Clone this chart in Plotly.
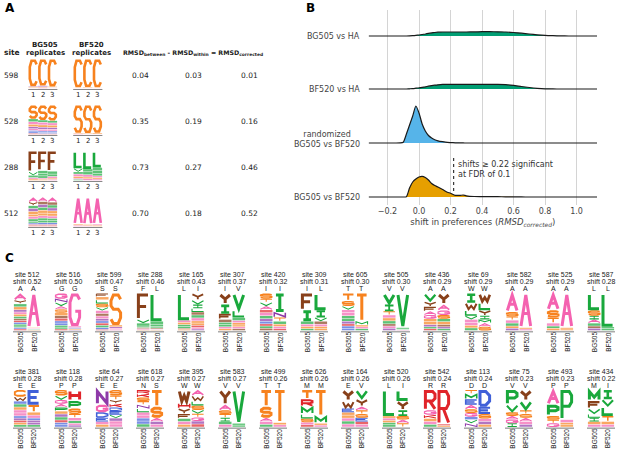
import plotly.graph_objects as go

W, H = 617, 460

# amino-acid colours (functional groups)
aa_colors = {
    'A': '#f462b0', 'G': '#f462b0',
    'S': '#f7821e', 'T': '#f7821e', 'C': '#f7821e',
    'V': '#19a83c', 'L': '#19a83c', 'I': '#19a83c', 'M': '#19a83c', 'P': '#19a83c',
    'F': '#88401a', 'Y': '#88401a', 'W': '#88401a',
    'D': '#4060d8', 'E': '#4060d8',
    'H': '#e0242a', 'K': '#e0242a', 'R': '#e0242a',
    'N': '#8e3aa8', 'Q': '#8e3aa8',
}

# ---- panel A data ----
a_sites = [598, 528, 288, 512]
a_between = [0.04, 0.35, 0.73, 0.70]
a_within = [0.03, 0.19, 0.27, 0.18]
a_corrected = [0.01, 0.16, 0.46, 0.52]
# stacks, top letter first, one string per replicate
a_bg505 = [
    ["C92 N3 S3 A2", "C90 N4 S3 A3", "C93 S3 N2 A2"],
    ["S46 V10 A9 T8 N7 G6 D5 E5 K4", "S50 V8 A9 T8 N7 G6 D5 E4 K3", "S52 V8 A8 T8 N6 G6 D5 E4 K3"],
    ["F70 V12 L8 A5 S5", "F66 V10 M8 L8 A4 S4", "F68 L10 V8 A6 S4 G4"],
    ["A16 Y12 V10 N10 S10 T8 G8 I8 L6 E5 K4 R3", "A14 Y10 N10 V10 S10 T9 G8 I8 L8 E6 K4 R3",
     "A16 Y10 V10 N10 S10 T8 G8 L8 I7 E6 K4 R3"],
]
a_bf520 = [
    ["C96 S2 A2", "C95 S3 A2", "C96 S2 A2"],
    ["S94 T3 A3", "S95 T3 A2", "S94 T4 A2"],
    ["L58 V12 M8 A8 S6 G4 I4", "L60 M10 V10 A8 S6 G6", "L55 V10 M10 I9 A6 S5 G5"],
    ["A92 S4 G4", "A93 S4 G3", "A92 G4 S4"],
]

# ---- panel B data ----
dens_x = [-0.32, -0.2, -0.15, -0.12, -0.1, -0.08, -0.06, -0.04, -0.02, 0.0, 0.02, 0.04, 0.06,
          0.08, 0.1, 0.12, 0.15, 0.18, 0.2, 0.23, 0.26, 0.28, 0.3, 0.35, 0.4, 0.45, 0.5, 0.55,
          0.6, 0.65, 0.7, 0.75, 0.8, 0.85, 0.9, 0.95, 1.0, 1.13]
dens_bg505_ha = [0, 0, 0, 0, 0, 0, 0.1, 0.3, 0.6, 1.0, 1.5, 2.0, 2.6, 3.1, 3.5, 3.8, 4.0, 4.0, 4.0,
                 4.0, 4.0, 4.0, 4.0, 4.1, 4.3, 4.3, 4.2, 4.0, 3.5, 2.8, 2.0, 1.2, 0.6, 0.3, 0.1,
                 0, 0, 0]
dens_bf520_ha = [0, 0, 0, 0, 0, 0, 0.2, 0.4, 0.8, 1.2, 1.7, 2.2, 2.8, 3.3, 3.8, 4.2, 4.6, 4.7, 4.7,
                 4.7, 4.7, 4.7, 4.7, 4.7, 4.7, 4.7, 4.7, 4.4, 3.6, 2.5, 1.5, 0.7, 0.2, 0.05, 0,
                 0, 0, 0]
dens_random = [0, 0, 0, 0.1, 0.8, 9, 18, 27, 37, 30, 19, 12, 7.5, 5, 3.2, 2.2, 1.3, 0.6, 0.4, 0.2,
               0.1, 0.05, 0, 0, 0, 0, 0, 0, 0, 0, 0, 0, 0, 0, 0, 0, 0, 0]
dens_bg_bf = [0, 0, 0, 0, 0, 0.3, 9, 15, 18, 20, 20.7, 19.5, 17, 13.5, 11.5, 10, 7.5, 4.8, 3.8,
              1.7, 1.6, 2.0, 1.2, 0.5, 0.4, 0.3, 0.3, 0.15, 0.1, 0.05, 0, 0, 0, 0, 0, 0, 0, 0]
ridge_names = ["BG505 vs BF520", "randomized<br>BG505 vs BF520", "BF520 vs HA", "BG505 vs HA"]
ridge_data = [dens_bg_bf, dens_random, dens_bf520_ha, dens_bg505_ha]
ridge_colors = ['#e69f00', '#56b4e9', '#009e73', '#009e73']
fdr_cutoff = 0.22

# ---- panel C data ----
c_sites = [512, 516, 599, 288, 165, 307, 420, 309, 605, 505, 436, 69, 582, 525, 587,
           381, 118, 64, 618, 395, 583, 499, 626, 164, 520, 542, 113, 75, 493, 434]
c_shift = [0.52, 0.50, 0.47, 0.46, 0.43, 0.37, 0.32, 0.31, 0.30, 0.30, 0.29, 0.29, 0.29, 0.29, 0.28,
           0.28, 0.28, 0.27, 0.27, 0.27, 0.27, 0.26, 0.26, 0.26, 0.26, 0.24, 0.24, 0.23, 0.23, 0.22]
c_wt_bg505 = list("AGSFLIIITVAWAAL") + list("EPENWVTMELRDVPM")
c_wt_bf520 = list("AGSLIVILTVAWAAL") + list("EPESWVTMVIRDVPI")
c_bg505 = [
    "A18 Y10 V8 S8 N6 G6 T6 I6 F5 K5 E5 L5 M4 D4 R4",
    "G14 N10 V10 A9 S9 T8 Y7 K7 D6 E6 I5 L5 R4",
    "F9 T8 L10 S10 V9 A8 Y7 G7 N6 D6 K6 I6 E5 R3",
    "F70 V10 L8 I4 Y3 A3 S2",
    "L72 A6 S6 V5 I5 F3 T3",
    "Y30 I25 F15 W8 L6 V6 A5 S5",
    "S14 T10 V10 A10 R8 G8 L8 N7 E7 K6 I6 F6",
    "F45 I30 V8 A6 S6 L5",
    "T20 S14 V10 G8 A8 L8 I7 N7 K6 E6 D6",
    "V30 I18 T10 A8 S8 L8 F6 G6 N6",
    "V22 Y14 F12 A10 G10 S8 T8 N6 L5 K5",
    "I25 W20 L15 V10 A8 G8 S7 M7",
    "A50 S12 T10 G8 V8 C6 N6",
    "A45 S20 T15 G8 V6 C6",
    "L45 S15 I10 A10 V8 F6 N6",
    "C18 W12 E8 V8 S8 A8 G8 D6 N6 K6 T6 L6",
    "S15 V12 G10 A10 P10 T8 N8 M8 K7 D6 E6",
    "N40 G20 D15 E10 A8 S7",
    "R10 K10 S10 T10 N10 L10 A8 G8 D8 E8 V8",
    "W35 H15 Y15 F12 L8 A8 S7",
    "Y40 A15 S10 T10 I10 L8 G7",
    "T45 S30 A10 G8 V7",
    "T25 R20 M20 L12 S10 A7 K6",
    "Y30 W20 E10 S8 T8 A8 V8 G8",
    "L70 S6 A6 T6 V6 I6",
    "R55 G12 K10 S8 A8 V7",
    "T10 M15 E15 A12 S10 G10 D8 V10 N10",
    "P40 V20 S10 A10 G10 I10",
    "A40 P30 S10 T10 G10",
    "M30 F20 V15 L10 I10 S8 A7",
]
c_bf520 = [
    "A92 S2 G2 V2 T2",
    "G88 A4 D3 S3 N2",
    "S85 T5 N4 G3 A3",
    "L75 V8 I6 M4 F3 A2 S2",
    "Y18 V12 I10 L10 F8 M8 A8 T6 S6 K6 G4 N4",
    "V45 L20 I8 A6 S6 T5 G5 F5",
    "I50 N15 T10 V8 S6 A6 R5",
    "L45 I20 V10 F8 A6 S6 T5",
    "T75 M10 S5 A5 V5",
    "V92 I4 L2 A2",
    "Y30 A16 G12 S10 V8 T8 F6 N5 L5",
    "W25 L20 Y15 I10 M10 A10 S10",
    "A92 S4 G4",
    "A92 S4 T4",
    "L90 I5 V5",
    "E40 T20 S8 A8 D6 N6 Q6 V6",
    "H30 P20 S15 T10 A8 V7 G5 N5",
    "S15 T12 Y10 K10 D10 E10 V9 N8 A8 G8",
    "T45 S30 A10 N8 G7",
    "A15 W15 L12 S12 V10 T10 G10 N8 K8",
    "V90 I5 L5",
    "T88 S6 A6",
    "T70 M20 S5 A5",
    "V25 Y20 A10 T10 S10 E10 K8 G7",
    "L30 Y25 I15 S10 A10 T10",
    "R92 K4 S4",
    "D45 E20 S12 A8 N8 T7",
    "Y30 V25 T10 S10 A10 G8 N7",
    "P80 A8 S6 T6",
    "I25 V20 L25 T15 S8 A7",
]

# stroke outlines of the letters in a unit box (u right, v up)
_O = [(0.25, 0), (0, 0.25), (0, 0.75), (0.25, 1), (0.75, 1), (1, 0.75), (1, 0.25), (0.75, 0), (0.25, 0)]
GLYPHS = {
    'A': [[(0, 0), (0.5, 1), (1, 0)], [(0.22, 0.4), (0.78, 0.4)]],
    'C': [[(1, 0.85), (0.75, 1), (0.25, 1), (0, 0.75), (0, 0.25), (0.25, 0), (0.75, 0), (1, 0.15)]],
    'D': [[(0, 0), (0, 1), (0.6, 1), (1, 0.7), (1, 0.3), (0.6, 0), (0, 0)]],
    'E': [[(1, 1), (0, 1), (0, 0), (1, 0)], [(0, 0.5), (0.8, 0.5)]],
    'F': [[(1, 1), (0, 1), (0, 0)], [(0, 0.5), (0.8, 0.5)]],
    'G': [[(1, 0.85), (0.75, 1), (0.25, 1), (0, 0.75), (0, 0.25), (0.25, 0), (0.75, 0), (1, 0.25),
           (1, 0.45), (0.55, 0.45)]],
    'H': [[(0, 0), (0, 1)], [(1, 0), (1, 1)], [(0, 0.5), (1, 0.5)]],
    'I': [[(0.5, 0), (0.5, 1)], [(0.1, 1), (0.9, 1)], [(0.1, 0), (0.9, 0)]],
    'K': [[(0, 0), (0, 1)], [(1, 1), (0, 0.35)], [(0.35, 0.58), (1, 0)]],
    'L': [[(0, 1), (0, 0), (1, 0)]],
    'M': [[(0, 0), (0, 1), (0.5, 0.3), (1, 1), (1, 0)]],
    'N': [[(0, 0), (0, 1), (1, 0), (1, 1)]],
    'P': [[(0, 0), (0, 1), (0.75, 1), (1, 0.85), (1, 0.6), (0.75, 0.45), (0, 0.45)]],
    'Q': [_O, [(0.6, 0.3), (1, 0)]],
    'R': [[(0, 0), (0, 1), (0.75, 1), (1, 0.85), (1, 0.6), (0.75, 0.45), (0, 0.45)], [(0.45, 0.45), (1, 0)]],
    'S': [[(1, 0.85), (0.75, 1), (0.25, 1), (0, 0.8), (0, 0.62), (0.25, 0.5), (0.75, 0.5), (1, 0.38),
           (1, 0.2), (0.75, 0), (0.25, 0), (0, 0.15)]],
    'T': [[(0, 1), (1, 1)], [(0.5, 1), (0.5, 0)]],
    'V': [[(0, 1), (0.5, 0), (1, 1)]],
    'W': [[(0, 1), (0.25, 0), (0.5, 0.6), (0.75, 0), (1, 1)]],
    'Y': [[(0, 1), (0.5, 0.5), (1, 1)], [(0.5, 0.5), (0.5, 0)]],
}

shapes = []
annots = []


def parse_stack(stack):
    items = [(s[0], float(s[1:])) for s in stack.split()]
    total = sum(w for _, w in items)
    return [(a, w / total) for a, w in items]


def glyph_path(aa, x0, x1, ytop, ybot, lw):
    ix = min(lw / 2, (x1 - x0) / 4)
    iy = min(lw / 2, (ybot - ytop) / 4)
    ax0, ax1, at, ab = x0 + ix, x1 - ix, ytop + iy, ybot - iy
    parts = []
    for line in GLYPHS[aa]:
        pts = [(ax0 + u * (ax1 - ax0), ab - v * (ab - at)) for u, v in line]
        parts.append('M' + 'L'.join(f'{px:.2f},{py:.2f}' for px, py in pts))
    return ' '.join(parts)


def draw_column(stack, xc, width, ybot, height, maxlw):
    y = ybot
    for aa, frac in reversed(parse_stack(stack)):
        h = frac * height
        ytop = y - h
        col = aa_colors[aa]
        if h < 3.2:
            # letters this flat only read as a coloured stripe
            shapes.append(dict(type='rect', xref='x', yref='y', x0=xc - width / 2, x1=xc + width / 2,
                               y0=ytop + 0.25, y1=y - 0.25, fillcolor=col, opacity=0.7,
                               line=dict(width=0), layer='above'))
        else:
            lw = min(maxlw, 0.28 * h)
            shapes.append(dict(type='path', xref='x', yref='y',
                               path=glyph_path(aa, xc - width / 2, xc + width / 2, ytop, y, lw),
                               line=dict(color=col, width=lw), fillcolor='rgba(0,0,0,0)', layer='above'))
        y = ytop


def text(x, y, s, size=7.5, color='#222', xanchor='center', yanchor='middle', angle=0,
         family='Liberation Sans'):
    annots.append(dict(x=x, y=y, xref='x', yref='y', text=s, showarrow=False, xanchor=xanchor,
                       yanchor=yanchor, textangle=angle,
                       font=dict(size=size, color=color, family=family)))


# ---------------- panel A ----------------
fa = 'DejaVu Sans'
text(3, 8, '<b>A</b>', size=12, color='#000', xanchor='left', family=fa)
text(2, 52, '<b>site</b>', size=7.5, xanchor='left', family=fa)
text(45, 45, '<b>BG505</b>', size=7, family=fa)
text(45, 52.5, '<b>replicates</b>', size=7, family=fa)
text(91.5, 45, '<b>BF520</b>', size=7, family=fa)
text(91.5, 52.5, '<b>replicates</b>', size=7, family=fa)
text(193, 52.5, '<b>RMSD<sub>between</sub> - RMSD<sub>within</sub> = RMSD<sub>corrected</sub></b>',
     size=6.3, family=fa)
for i, site in enumerate(a_sites):
    yc = 75 + 46 * i
    ybot = yc + 13.5
    text(2, yc, str(site), size=7.5, xanchor='left', family=fa)
    text(140, yc, f'{a_between[i]:.2f}', size=7.5, family=fa)
    text(193, yc, f'{a_within[i]:.2f}', size=7.5, family=fa)
    text(249, yc, f'{a_corrected[i]:.2f}', size=7.5, family=fa)
    for x_start, stacks in ((33.2, a_bg505[i]), (78.2, a_bf520[i])):
        for r in range(3):
            draw_column(stacks[r], x_start + 9.6 * r, 9.4, ybot, 29, 2.6)
            text(x_start + 9.6 * r, ybot + 6, str(r + 1), size=7, family=fa)
        shapes.append(dict(type='line', xref='x', yref='y', x0=x_start - 5, x1=x_start + 24.2,
                           y0=ybot + 1, y1=ybot + 1, line=dict(color='#888', width=1)))

# ---------------- panel C ----------------
text(3, 258, '<b>C</b>', size=12, color='#000', xanchor='left', family=fa)
for k, site in enumerate(c_sites):
    row, col = divmod(k, 15)
    cx = 27 + 41 * col
    y0 = 274.5 + 96.5 * row
    text(cx, y0, f'site {site}', size=7)
    text(cx, y0 + 7, f'shift {c_shift[k]:.2f}', size=7)
    text(cx - 6.8, y0 + 14, c_wt_bg505[k], size=7)
    text(cx + 6.8, y0 + 14, c_wt_bf520[k], size=7)
    ybot = y0 + 56
    draw_column(c_bg505[k], cx - 6.8, 12.6, ybot, 37, 3.0)
    draw_column(c_bf520[k], cx + 6.8, 12.6, ybot, 37, 3.0)
    shapes.append(dict(type='line', xref='x', yref='y', x0=cx - 14, x1=cx + 14,
                       y0=ybot + 1.2, y1=ybot + 1.2, line=dict(color='#aaa', width=1.6)))
    text(cx - 6.8, ybot + 11.5, 'BG505', size=6.5, angle=-90)
    text(cx + 6.8, ybot + 11.5, 'BF520', size=6.5, angle=-90)

# ---------------- panel B ----------------
fig = go.Figure()
ridge_base = [0, 54, 108, 161]
ridge_label_y = [197, 150.5, 89, 36]
ridge_label_anchor = ['middle', 'bottom', 'middle', 'middle']
for j in reversed(range(4)):
    base = ridge_base[j]
    fig.add_trace(go.Scatter(x=dens_x, y=[base] * len(dens_x), mode='lines', line=dict(width=0),
                             xaxis='x2', yaxis='y2', hoverinfo='skip', showlegend=False))
    fig.add_trace(go.Scatter(x=dens_x, y=[base + d for d in ridge_data[j]], mode='lines',
                             line=dict(color='#1a1a1a', width=1.2, shape='spline', smoothing=0.6),
                             fill='tonexty', fillcolor=ridge_colors[j],
                             xaxis='x2', yaxis='y2', showlegend=False, name=ridge_names[j]))
text(304, 8, '<b>B</b>', size=12, color='#000', xanchor='left', family=fa)
for j in range(4):
    text(362, ridge_label_y[j], ridge_names[j], size=8, color='#444', xanchor='right',
         yanchor=ridge_label_anchor[j], family=fa)
shapes.append(dict(type='line', xref='x2', yref='y2', x0=fdr_cutoff, x1=fdr_cutoff, y0=6, y1=42,
                   line=dict(color='#222', width=1.1, dash='dot')))
annots.append(dict(x=fdr_cutoff + 0.012, y=28, xref='x2', yref='y2', xanchor='left', yanchor='middle',
                   align='left', showarrow=False,
                   text=f'shifts \u2265 {fdr_cutoff:.2f} significant<br>at FDR of 0.1',
                   font=dict(size=8, color='#333', family=fa)))

fig.update_layout(
    width=W, height=H, margin=dict(l=0, r=0, t=0, b=0),
    paper_bgcolor='white', plot_bgcolor='rgba(0,0,0,0)',
    xaxis=dict(domain=[0, 1], range=[0, W], visible=False, fixedrange=True),
    yaxis=dict(domain=[0, 1], range=[H, 0], visible=False, fixedrange=True),
    xaxis2=dict(domain=[368.6 / W, 597 / W], range=[-0.32, 1.13], anchor='y2',
                tickvals=[-0.2, 0.0, 0.2, 0.4, 0.6, 0.8, 1.0], tickformat='.1f',
                showgrid=True, gridcolor='#d4d4d4', gridwidth=1, zeroline=False, showline=False,
                ticks='', tickfont=dict(size=8, color='#444', family=fa),
                title=dict(text='shift in preferences (<i>RMSD</i><sub><i>corrected</i></sub>)',
                           font=dict(size=8.5, color='#444', family=fa), standoff=4)),
    yaxis2=dict(domain=[(H - 205) / H, (H - 10) / H], range=[-8, 187], anchor='x2',
                visible=False),
    shapes=shapes, annotations=annots,
)

# drop the page's default body margin so the figure sits at the window's corner
fig.write_html("out.html", config={'displayModeBar': False},
               post_script="document.body.style.margin='0px';")
